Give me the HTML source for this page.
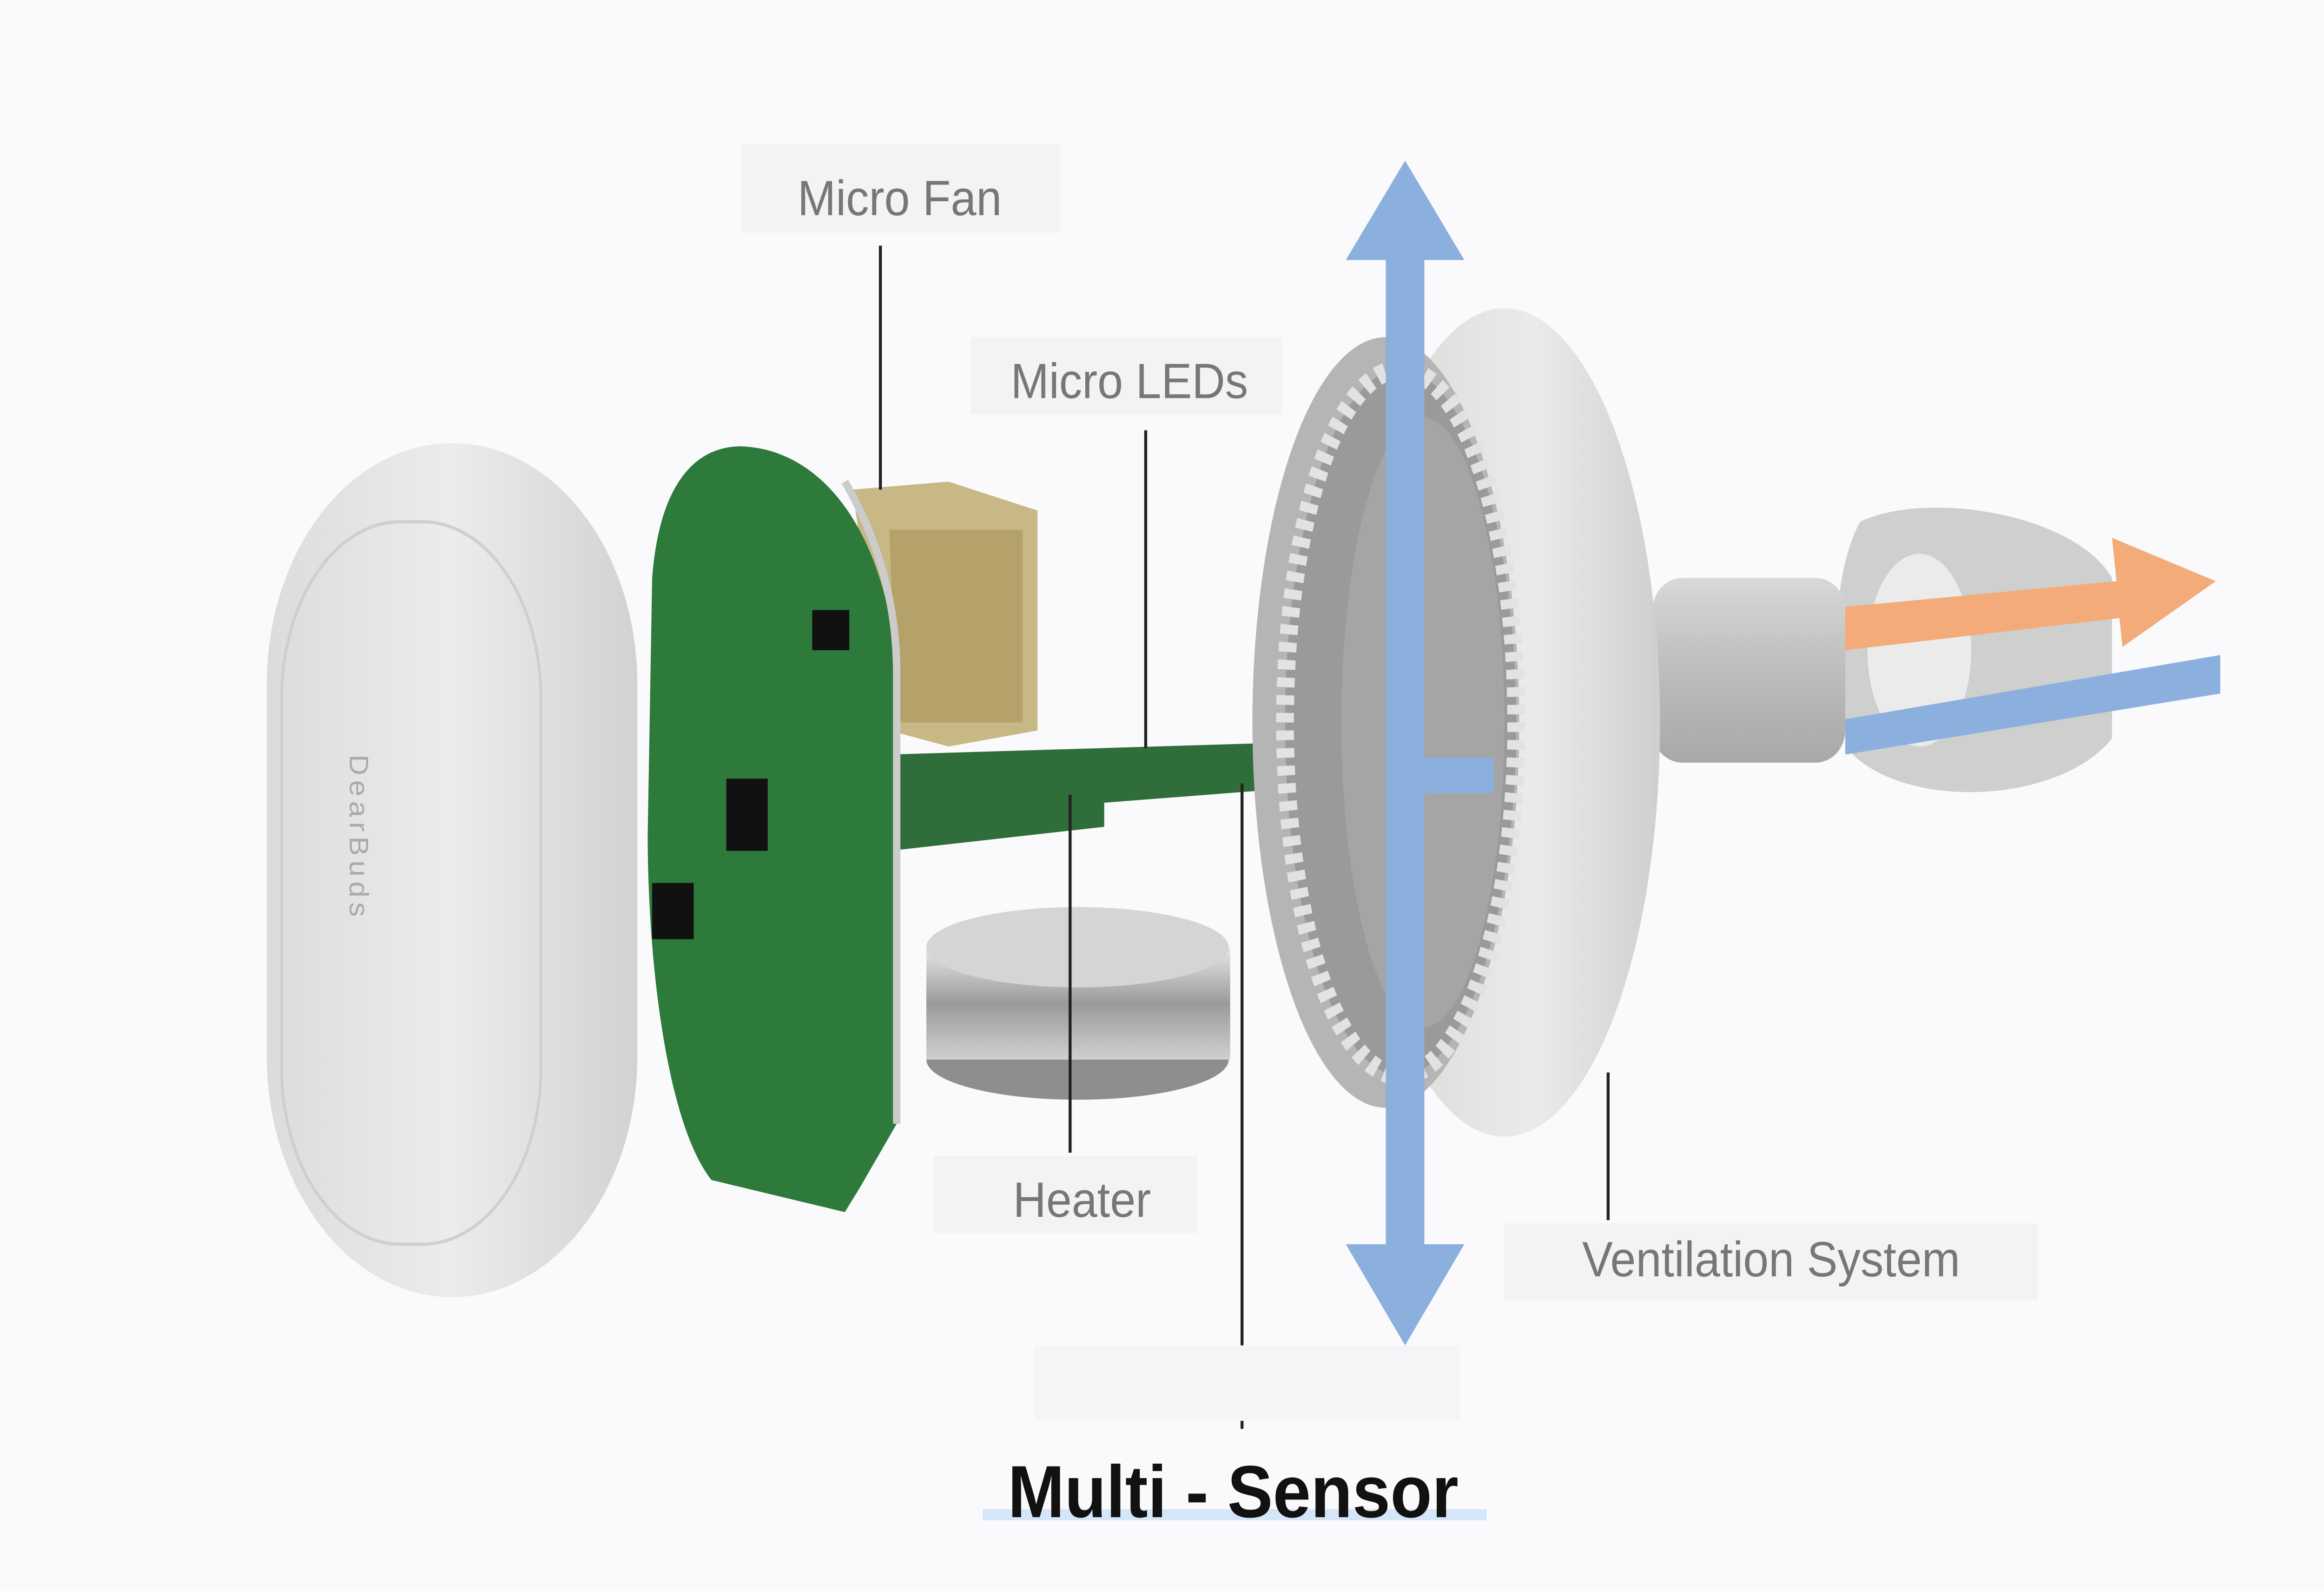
<!DOCTYPE html>
<html><head><meta charset="utf-8"><style>
html,body{margin:0;padding:0;background:#fafafc;width:100%;height:100%;overflow:hidden;}
svg{display:block;position:fixed;left:0;top:0;width:100vw;height:100vh;}
</style></head><body>
<svg viewBox="0 0 1568 991" preserveAspectRatio="none" xmlns="http://www.w3.org/2000/svg">
<defs>
<linearGradient id="cover" x1="0" x2="1" y1="0" y2="0">
<stop offset="0" stop-color="#dcdcdc"/><stop offset="0.5" stop-color="#ececeb"/><stop offset="1" stop-color="#d2d2d2"/></linearGradient>
<linearGradient id="house" x1="0" x2="1"><stop offset="0" stop-color="#d6d6d6"/><stop offset="0.6" stop-color="#ebebe9"/><stop offset="1" stop-color="#cfcfcd"/></linearGradient>
<linearGradient id="batt" x1="0" x2="0" y1="0" y2="1"><stop offset="0" stop-color="#e8e8e8"/><stop offset="0.5" stop-color="#9a9a9a"/><stop offset="1" stop-color="#d0d0d0"/></linearGradient>
<linearGradient id="stem" x1="0" x2="0" y1="0" y2="1"><stop offset="0" stop-color="#d8d8d6"/><stop offset="0.5" stop-color="#bdbdbb"/><stop offset="1" stop-color="#a8a8a6"/></linearGradient>
</defs>
<rect width="1568" height="991" fill="#fafafc"/>
<!-- left cover -->
<rect x="180" y="276" width="250" height="532" rx="125" ry="150" fill="url(#cover)"/>
<rect x="190" y="325" width="175" height="450" rx="80" ry="110" fill="none" stroke="#cfcfcf" stroke-width="2"/>
<text x="236" y="470" transform="rotate(90 236 470)" font-family="Liberation Sans, sans-serif" font-size="18" fill="#aaa" letter-spacing="3">DearBuds</text>
<!-- fan -->
<path d="M575 305 L640 300 L700 318 L700 455 L640 465 L600 455 Z" fill="#c8b886"/>
<path d="M600 330 L690 330 L690 450 L605 450 Z" fill="#b5a26a"/>
<!-- board arm -->
<path d="M600 470 L885 462 L885 490 L745 500 L745 515 L600 530 Z" fill="#2f6d3a"/>
<!-- PCB -->
<path d="M500 278 C560 280 600 340 605 420 L605 700 L580 740 L570 755 L480 735 C450 700 437 600 437 520 L440 360 C445 300 470 278 500 278 Z" fill="#2e7a3b"/>
<path d="M570 300 C595 340 605 380 605 420 L605 700" fill="none" stroke="#ccc" stroke-width="5"/>
<rect x="490" y="485" width="28" height="45" fill="#111"/>
<rect x="440" y="550" width="28" height="35" fill="#111"/>
<rect x="548" y="380" width="25" height="25" fill="#111"/>
<!-- battery -->
<ellipse cx="727" cy="660" rx="102" ry="25" fill="#8e8e8e"/>
<rect x="625" y="590" width="205" height="70" fill="url(#batt)"/>
<ellipse cx="727" cy="590" rx="102" ry="25" fill="#d5d5d5"/>
<!-- ear tip -->
<path d="M1255 325 C1300 305 1400 320 1425 360 L1425 460 C1390 500 1290 505 1250 470 C1235 420 1235 360 1255 325 Z" fill="#cfcfcf"/>
<ellipse cx="1295" cy="405" rx="35" ry="60" fill="#ebebeb"/>
<!-- stem -->
<rect x="1115" y="360" width="130" height="115" rx="20" fill="url(#stem)"/>
<!-- housing -->
<ellipse cx="1015" cy="450" rx="105" ry="258" fill="url(#house)"/>
<ellipse cx="935" cy="450" rx="90" ry="240" fill="#b5b5b5"/>
<ellipse cx="945" cy="450" rx="78" ry="220" fill="#9a9a9a" stroke="#e2e2e2" stroke-width="12" stroke-dasharray="6 5"/>
<ellipse cx="960" cy="450" rx="55" ry="190" fill="#a5a5a5"/>
<!-- orange arrow -->
<polygon points="1245,378 1428,362 1425,335 1495,362 1432,403 1430,385 1245,405" fill="#f3ab7a"/>
<!-- blue line -->
<polygon points="1245,448 1498,408 1498,432 1245,470" fill="#8cb0dd"/>
<rect x="948" y="472" width="60" height="22" fill="#8cb0dd"/>
<!-- vertical blue arrow -->
<polygon points="948,100 988,162 961,162 961,775 988,775 948,838 908,775 935,775 935,162 908,162" fill="#8cb0dd"/>
<!-- leader lines -->
<g stroke="#222" stroke-width="2">
<line x1="594" y1="153" x2="594" y2="305"/>
<line x1="773" y1="268" x2="773" y2="466"/>
<line x1="722" y1="495" x2="722" y2="718"/>
<line x1="838" y1="488" x2="838" y2="890"/>
<line x1="1085" y1="668" x2="1085" y2="760"/>
</g>
<!-- labels -->
<g font-family="Liberation Sans, sans-serif" fill="#777" font-size="31">
<rect x="500" y="90" width="215" height="55" fill="#f3f3f5"/>
<text x="607" y="134" text-anchor="middle">Micro Fan</text>
<rect x="655" y="210" width="210" height="48" fill="#f3f3f5"/>
<text x="762" y="248" text-anchor="middle">Micro LEDs</text>
<rect x="630" y="720" width="178" height="48" fill="#f3f3f5"/>
<text x="730" y="758" text-anchor="middle">Heater</text>
<rect x="1015" y="762" width="360" height="48" fill="#f3f3f5"/>
<text x="1195" y="795" text-anchor="middle">Ventilation System</text>
</g>
<rect x="698" y="838" width="287" height="47" fill="#f5f5f7"/>
<rect x="663" y="940" width="340" height="7" fill="#d4e6f7"/>
<text x="832" y="945" text-anchor="middle" font-family="Liberation Sans, sans-serif" font-weight="bold" font-size="46" fill="#111">Multi - Sensor</text>
</svg>
</body></html>
